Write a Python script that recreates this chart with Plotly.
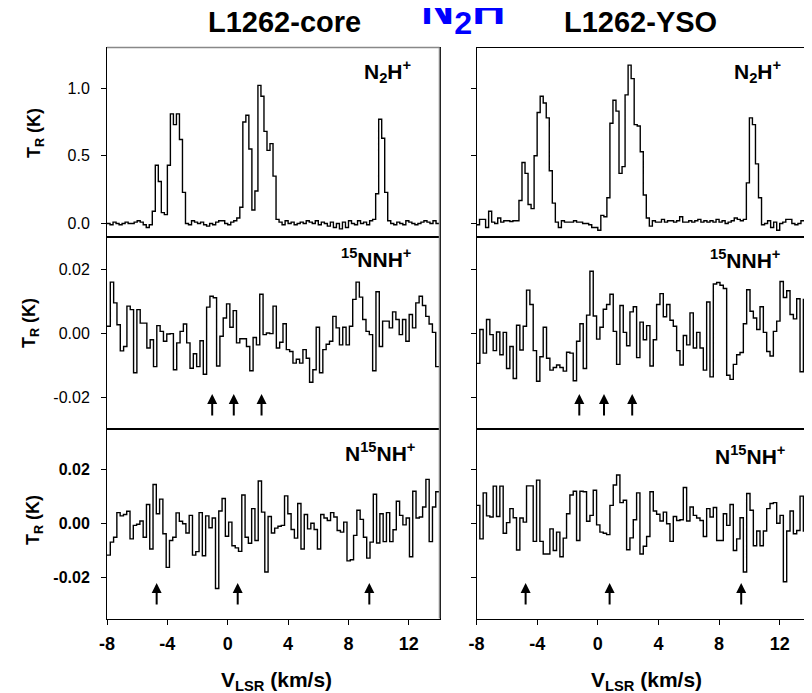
import plotly.graph_objects as go

# ---------------- data ----------------
V0 = -8.0
V_END = 14.0

X_TICKS = [-8, -4, 0, 4, 8, 12]
X_TICK_TEXT = ["-8", "-4", "0", "4", "8", "12"]

TOP_TICKS = [0.0, 0.5, 1.0]
TOP_TICK_TEXT = ["0.0", "0.5", "1.0"]
ISO_TICKS = [-0.02, 0.0, 0.02]
ISO_TICK_TEXT = ["-0.02", "0.00", "0.02"]

columns = ["L1262-core", "L1262-YSO"]

# N2H+ (K), 0.2 km/s channels
core_n2h = [0.00, -0.01, 0.01, 0.00, -0.01, 0.00, 0.01, 0.00, 0.00, 0.01, 0.02, 0.01, -0.01, -0.03, -0.01,
            0.09, 0.43, 0.31, 0.08, 0.065, 0.43, 0.81, 0.73, 0.81, 0.62, 0.23,
            0.00, -0.01, 0.02, 0.01, 0.00, 0.01, -0.01, -0.02, 0.00, -0.01, 0.01, 0.02, 0.02, 0.00, -0.01, 0.01, 0.02, 0.04,
            0.12, 0.75, 0.80, 0.55, 0.10, 0.24, 1.02, 0.94, 0.68, 0.54, 0.59, 0.35, 0.03,
            0.01, -0.01, 0.02, 0.00, 0.01, -0.01, 0.00, 0.01, 0.00, 0.02, 0.01, 0.00, 0.02, -0.01, 0.01, 0.00,
            -0.02, 0.01, -0.03, 0.00, -0.04, 0.01, -0.03, 0.02, 0.00, -0.01, 0.02, 0.00, 0.01, -0.01, 0.02, 0.03,
            0.22, 0.77, 0.63, 0.23, 0.02,
            0.00, -0.01, 0.01, 0.00, -0.01, 0.02, 0.01, 0.00, -0.01, 0.00, 0.01, 0.02, 0.01, 0.00, 0.02, 0.00]

yso_n2h = [-0.01, 0.03, 0.03, -0.03, 0.09, 0.01, 0.00, 0.04, 0.01, 0.02, 0.02, 0.015, 0.02, 0.02,
           0.17, 0.45, 0.37, 0.14, 0.11, 0.50, 0.82, 0.94, 0.89, 0.78, 0.39, 0.15,
           0.01, -0.03, 0.02, 0.01, 0.01, 0.01, 0.02, 0.01, 0.01, 0.00, 0.00, -0.01, -0.03, -0.03, -0.05, 0.06, 0.05,
           0.19, 0.74, 0.91, 0.83, 0.37, 0.42, 0.95, 1.17, 1.07, 0.73, 0.72, 0.53, 0.21, 0.04,
           -0.02, 0.02, 0.01, 0.01, 0.03, 0.01, 0.02, 0.02, 0.01, 0.02, 0.05, 0.01, 0.01, 0.02, 0.01, 0.02,
           0.03, 0.01, 0.02, 0.01, 0.02, 0.01, 0.03, 0.01, 0.02, 0.00, 0.01, 0.02, 0.04, 0.03, 0.02, 0.03,
           0.30, 0.78, 0.73, 0.44, 0.19,
           -0.01, 0.00, 0.02, -0.03, 0.01, -0.05, 0.00, 0.01, 0.03, 0.03, 0.00, -0.01, 0.00, 0.02, 0.02, 0.04]

# 15NNH+ (K)
core_15nnh = [0.0021, 0.0159, 0.0094, 0.0026, -0.0056, -0.0042, 0.0084, 0.0073, -0.0124, 0.0073,
              0.0031, 0.0031, -0.0047, -0.0021, -0.0105, 0.0023, 0.0005, -0.0026, -0.0003, -0.0002,
              -0.0115, -0.0031, 0.0005, 0.0028, -0.0031, -0.0110, -0.0065, -0.0105, -0.0024, -0.0129,
              0.0081, 0.0115, 0.0110, -0.0103, -0.0010, 0.0047, 0.0091, 0.0018, 0.0070, -0.0031,
              -0.0018, -0.0018, -0.0042, -0.0118, -0.0014, -0.0037, 0.0121, -0.0005, 0.0000, -0.0002,
              0.0084, -0.0047, -0.0029, 0.0029, -0.0052, -0.0058, -0.0094, -0.0082, -0.0094, -0.0052,
              -0.0079, -0.0154, -0.0115, 0.0018, -0.0124, -0.0052, -0.0035, -0.0026, 0.0052, 0.0016,
              -0.0037, 0.0018, -0.0037, 0.0021, 0.0105, 0.0159, 0.0112, 0.0042, 0.0005, -0.0005,
              -0.0118, 0.0129, -0.0042, 0.0037, 0.0037, 0.0016, 0.0066, 0.0042, -0.0005, 0.0042,
              -0.0026, 0.0058, 0.0016, 0.0094, 0.0115, 0.0086, 0.0052, 0.0028, 0.0002, -0.0105]

yso_15nnh = [-0.0095, 0.0011, -0.0063, 0.0042, -0.0005, -0.0055, 0.0003, -0.0068, 0.0002, -0.0111,
             -0.0042, -0.0142, 0.0024, -0.0053, 0.0021, 0.0134, 0.0089, -0.0055, -0.0151, -0.0074,
             0.0018, -0.0079, -0.0116, -0.0108, -0.0100, -0.0108, -0.0119, -0.0060, -0.0063, -0.0149,
             -0.0026, 0.0029, -0.0111, 0.0056, 0.0193, 0.0053, -0.0019, 0.0018, 0.0074, 0.0089,
             0.0121, 0.0005, -0.0098, 0.0086, 0.0002, -0.0040, 0.0066, 0.0082, -0.0077, 0.0034,
             -0.0021, 0.0023, -0.0103, -0.0021, 0.0089, 0.0123, 0.0051, 0.0089, 0.0040, 0.0021,
             -0.0055, -0.0100, -0.0008, -0.0037, 0.0063, -0.0047, 0.0002, -0.0047, -0.0116, 0.0097,
             -0.0137, 0.0153, 0.0158, 0.0149, 0.0139, -0.0132, -0.0145, -0.0098, -0.0068, -0.0061,
             0.0029, 0.0135, 0.0068, 0.0047, 0.0011, 0.0082, 0.0002, -0.0058, -0.0072, 0.0005,
             0.0037, 0.0161, 0.0111, 0.0132, 0.0058, 0.0044, 0.0107, -0.0121, 0.0105, -0.0005]

# N15NH+ (K)
core_n15nh = [-0.0116, -0.0068, -0.0050, 0.0041, 0.0029, 0.0034, 0.0046, -0.0056, -0.0006, -0.0002,
              0.0010, -0.0050, 0.0071, -0.0093, 0.0145, 0.0037, 0.0091, -0.0037, -0.0161, -0.0062,
              -0.0050, 0.0040, 0.0009, 0.0000, -0.0034, 0.0031, -0.0116, -0.0103, 0.0041, -0.0118,
              0.0029, -0.0015, 0.0021, -0.0239, 0.0047, 0.0093, -0.0046, 0.0006, -0.0081, -0.0089,
              -0.0102, 0.0106, -0.0050, -0.0072, 0.0056, -0.0062, 0.0158, 0.0043, -0.0178, 0.0027,
              -0.0034, -0.0016, -0.0009, -0.0006, 0.0103, 0.0037, -0.0021, -0.0053, 0.0075, -0.0093,
              0.0034, -0.0019, 0.0002, -0.0021, -0.0093, 0.0034, 0.0021, 0.0012, 0.0041, 0.0025,
              -0.0025, -0.0031, 0.0006, -0.0137, -0.0133, -0.0043, 0.0050, 0.0016, -0.0050, -0.0127,
              -0.0068, 0.0109, -0.0071, 0.0037, -0.0066, 0.0041, -0.0066, -0.0022, 0.0083, 0.0031,
              -0.0004, 0.0021, -0.0122, 0.0120, 0.0021, 0.0025, 0.0062, 0.0164, -0.0066, 0.0062, 0.0118]

yso_n15nh = [0.0068, -0.0056, 0.0114, 0.0029, 0.0025, 0.0139, 0.0027, 0.0139, -0.0035, 0.0004,
             0.0056, 0.0022, -0.0097, 0.0021, 0.0006, 0.0140, 0.0140, -0.0065, 0.0161, -0.0065,
             -0.0112, -0.0112, -0.0019, -0.0099, -0.0031, -0.0122, -0.0053, 0.0037, 0.0106, 0.0120,
             -0.0062, 0.0120, 0.0118, 0.0009, 0.0031, 0.0124, -0.0004, -0.0031, -0.0035, -0.0040,
             0.0068, 0.0143, 0.0180, 0.0078, 0.0087, -0.0096, -0.0052, 0.0015, 0.0114, -0.0112,
             -0.0083, -0.0047, 0.0118, 0.0047, 0.0035, 0.0010, 0.0043, 0.0000, -0.0065, 0.0027,
             0.0012, 0.0015, 0.0134, 0.0010, 0.0062, 0.0031, 0.0021, 0.0012, -0.0047, 0.0056,
             0.0025, 0.0060, -0.0062, -0.0062, 0.0037, -0.0006, 0.0071, -0.0099, -0.0056, 0.0022,
             -0.0178, 0.0112, 0.0050, -0.0081, -0.0027, -0.0081, -0.0027, 0.0056, 0.0075, 0.0078,
             0.0002, 0.0031, -0.0214, -0.0027, 0.0047, -0.0037, -0.0025, 0.0102, -0.0027, 0.0047]

# hyperfine markers (km/s)
arrows_15nnh_core = [-1.03, 0.40, 2.24]
arrows_15nnh_yso = [-1.22, 0.41, 2.27]
arrows_n15nh_core = [-4.71, 0.66, 9.38]
arrows_n15nh_yso = [-4.76, 0.78, 9.46]

species = ["<b>N<sub>2</sub>H<sup>+</sup></b>",
           "<b><sup>15</sup>NNH<sup>+</sup></b>",
           "<b>N<sup>15</sup>NH<sup>+</sup></b>"]

# ---------------- layout helpers ----------------
# The page body keeps an 8 px margin, so the figure starts at (8, 8) of the window.
OFF = 8
W, H = 812 - OFF, 693 - OFF
FONT = "Liberation Sans, Arial, sans-serif"


def px_x(p):
    return (p - OFF) / W


def px_y(p):
    return 1 - (p - OFF) / H


col_dom = [[px_x(107), px_x(439.5)], [px_x(476.5), px_x(810.5)]]
row_dom = [[px_y(237), px_y(47.5)], [px_y(429), px_y(237)], [px_y(618.5), px_y(429)]]
y_ranges = [[-0.1, 1.3], [-0.03, 0.03], [-0.035, 0.035]]
X_RANGE = [-8, 14.03]

spectra = [[core_n2h, yso_n2h], [core_15nnh, yso_15nnh], [core_n15nh, yso_n15nh]]
arrows = [[None, None], [arrows_15nnh_core, arrows_15nnh_yso], [arrows_n15nh_core, arrows_n15nh_yso]]
arrow_head_y = [None, -0.0191, -0.0219]

fig = go.Figure()
annotations = []

for r in range(3):
    for c in range(2):
        k = r * 2 + c + 1
        vals = spectra[r][c]
        n = len(vals)
        xs = [V0 + (V_END - V0) * i / n for i in range(n + 1)]
        ys = list(vals) + [vals[-1]]
        xa = "x" if k == 1 else f"x{k}"
        ya = "y" if k == 1 else f"y{k}"
        fig.add_trace(go.Scatter(x=xs, y=ys, mode="lines", line=dict(color="black", width=1.4, shape="hv"),
                                 xaxis=xa, yaxis=ya, showlegend=False, hoverinfo="skip"))
        bottom = (r == 2)
        fig.update_layout(**{
            f"xaxis{k if k > 1 else ''}": dict(
                domain=col_dom[c], range=X_RANGE, anchor=ya, showline=True, mirror=True,
                linecolor="black", linewidth=1, showgrid=False, zeroline=False, automargin=False,
                tickvals=X_TICKS, ticktext=X_TICK_TEXT,
                ticks="outside" if bottom else "", ticklen=5, tickcolor="black",
                showticklabels=bottom, ticklabelstandoff=4,
                tickfont=dict(family=FONT, size=18, color="black", weight="bold"),
            ),
            f"yaxis{k if k > 1 else ''}": dict(
                domain=row_dom[r], range=y_ranges[r], anchor=xa, showline=True, mirror=True,
                linecolor="black", linewidth=1, showgrid=False, zeroline=False, automargin=False,
                tickvals=TOP_TICKS if r == 0 else ISO_TICKS,
                ticktext=TOP_TICK_TEXT if r == 0 else ISO_TICK_TEXT,
                ticks="outside", ticklen=5, tickcolor="black",
                showticklabels=(c == 0), ticklabelstandoff=8,
                tickfont=dict(family=FONT, size=16, color="black",
                              weight="bold" if r == 2 else "normal"),
            ),
        })
        # species label
        sp_pos = [[(387, 72), (757, 72)], [(376, 258), (745, 259)], [(380, 452), (750, 455)]][r][c]
        annotations.append(dict(text=species[r], xref="paper", yref="paper",
                                x=px_x(sp_pos[0]), y=px_y(sp_pos[1]), xanchor="center", yanchor="middle",
                                showarrow=False, font=dict(family=FONT, size=21, color="black")))
        if arrows[r][c]:
            for av in arrows[r][c]:
                annotations.append(dict(text="", x=av, y=arrow_head_y[r], xref=xa, yref=ya,
                                        showarrow=True, arrowhead=2, arrowsize=1, arrowwidth=2,
                                        arrowcolor="black", ax=0, ay=23, axref="pixel", ayref="pixel"))

# y-axis titles
for xpix, ypix in [(35, 133), (30, 323), (35, 520)]:
    annotations.append(dict(text="<b>T<sub>R</sub> (K)</b>", xref="paper", yref="paper",
                            x=px_x(xpix), y=px_y(ypix), xanchor="center", yanchor="middle",
                            textangle=-90, showarrow=False,
                            font=dict(family=FONT, size=18, color="black")))
# x-axis titles
for xpix in [276, 646]:
    annotations.append(dict(text="<b>V<sub>LSR</sub> (km/s)</b>", xref="paper", yref="paper",
                            x=px_x(xpix), y=px_y(681), xanchor="center", yanchor="middle",
                            showarrow=False, font=dict(family=FONT, size=21, color="black")))
# column titles
for name, xpix in zip(columns, [284, 640]):
    annotations.append(dict(text=f"<b>{name}</b>", xref="paper", yref="paper",
                            x=px_x(xpix), y=px_y(22), xanchor="center", yanchor="middle",
                            showarrow=False, font=dict(family=FONT, size=29, color="black")))
# main blue title (partly cut off at the top edge)
annotations.append(dict(text="<b>N<sub>2</sub>H<sup>+</sup></b>", xref="paper", yref="paper",
                        x=px_x(419), y=px_y(8), xanchor="left", yanchor="middle",
                        showarrow=False, font=dict(family=FONT, size=46, color="#0000FF")))

shapes = [
    dict(type="line", xref="paper", yref="paper", x0=col_dom[0][0], x1=col_dom[0][1],
         y0=row_dom[0][1], y1=row_dom[0][1], line=dict(color="#888888", width=1.5)),
    dict(type="line", xref="paper", yref="paper", x0=col_dom[0][1], x1=col_dom[0][1],
         y0=row_dom[2][0], y1=row_dom[0][1], line=dict(color="#888888", width=1.5)),
]

fig.update_layout(width=W, height=H, margin=dict(l=0, r=0, t=0, b=0),
                  paper_bgcolor="white", plot_bgcolor="white",
                  annotations=annotations, shapes=shapes,
                  font=dict(family=FONT, color="black"))

fig.write_html("out.html")
